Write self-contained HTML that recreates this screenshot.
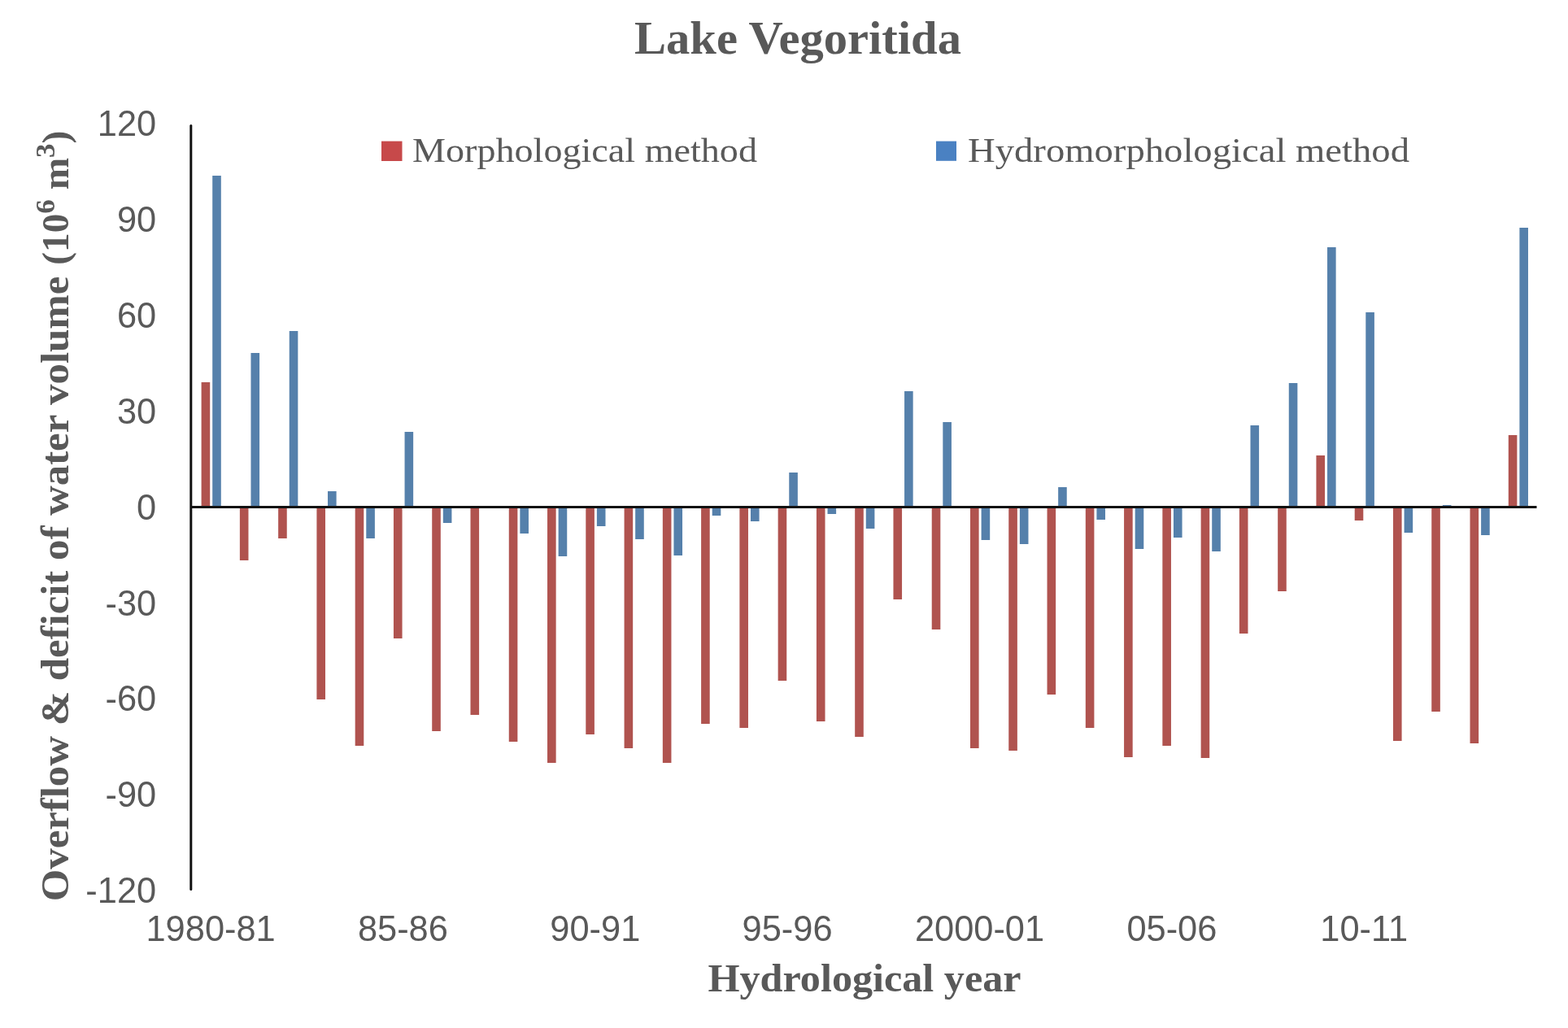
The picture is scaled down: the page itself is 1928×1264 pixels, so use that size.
<!DOCTYPE html>
<html><head><meta charset="utf-8"><title>Lake Vegoritida</title>
<style>
html,body{margin:0;padding:0;background:#fff;}
body{width:1928px;height:1264px;overflow:hidden;}
svg{display:block;}
.tk{font-family:"Liberation Sans",sans-serif;font-size:43.4px;fill:#595959;}
.sf{font-family:"Liberation Serif",serif;fill:#595959;}
</style></head><body>
<svg width="1928" height="1264" viewBox="0 0 1928 1264">
<rect width="1928" height="1264" fill="#fff"/>
<text x="981" y="66" text-anchor="middle" class="sf" font-weight="bold" font-size="58" textLength="402" lengthAdjust="spacingAndGlyphs">Lake Vegoritida</text>
<g>
<rect x="247.60" y="470.00" width="10.6" height="153.50" fill="#B0534F"/><rect x="261.20" y="216.00" width="10.6" height="407.50" fill="#5580AB"/><rect x="294.87" y="623.50" width="10.6" height="65.50" fill="#B0534F"/><rect x="308.47" y="434.00" width="10.6" height="189.50" fill="#5580AB"/><rect x="342.14" y="623.50" width="10.6" height="38.50" fill="#B0534F"/><rect x="355.74" y="407.00" width="10.6" height="216.50" fill="#5580AB"/><rect x="389.41" y="623.50" width="10.6" height="236.50" fill="#B0534F"/><rect x="403.01" y="604.00" width="10.6" height="19.50" fill="#5580AB"/><rect x="436.68" y="623.50" width="10.6" height="293.50" fill="#B0534F"/><rect x="450.28" y="623.50" width="10.6" height="38.50" fill="#5580AB"/><rect x="483.95" y="623.50" width="10.6" height="161.50" fill="#B0534F"/><rect x="497.55" y="531.00" width="10.6" height="92.50" fill="#5580AB"/><rect x="531.22" y="623.50" width="10.6" height="275.50" fill="#B0534F"/><rect x="544.82" y="623.50" width="10.6" height="19.50" fill="#5580AB"/><rect x="578.49" y="623.50" width="10.6" height="255.50" fill="#B0534F"/><rect x="625.76" y="623.50" width="10.6" height="288.50" fill="#B0534F"/><rect x="639.36" y="623.50" width="10.6" height="32.50" fill="#5580AB"/><rect x="673.03" y="623.50" width="10.6" height="314.50" fill="#B0534F"/><rect x="686.63" y="623.50" width="10.6" height="60.50" fill="#5580AB"/><rect x="720.30" y="623.50" width="10.6" height="279.50" fill="#B0534F"/><rect x="733.90" y="623.50" width="10.6" height="23.50" fill="#5580AB"/><rect x="767.57" y="623.50" width="10.6" height="296.50" fill="#B0534F"/><rect x="781.17" y="623.50" width="10.6" height="39.50" fill="#5580AB"/><rect x="814.84" y="623.50" width="10.6" height="314.50" fill="#B0534F"/><rect x="828.44" y="623.50" width="10.6" height="59.50" fill="#5580AB"/><rect x="862.11" y="623.50" width="10.6" height="266.50" fill="#B0534F"/><rect x="875.71" y="623.50" width="10.6" height="10.50" fill="#5580AB"/><rect x="909.38" y="623.50" width="10.6" height="271.50" fill="#B0534F"/><rect x="922.98" y="623.50" width="10.6" height="17.50" fill="#5580AB"/><rect x="956.65" y="623.50" width="10.6" height="213.50" fill="#B0534F"/><rect x="970.25" y="581.00" width="10.6" height="42.50" fill="#5580AB"/><rect x="1003.92" y="623.50" width="10.6" height="263.50" fill="#B0534F"/><rect x="1017.52" y="623.50" width="10.6" height="8.50" fill="#5580AB"/><rect x="1051.19" y="623.50" width="10.6" height="282.50" fill="#B0534F"/><rect x="1064.79" y="623.50" width="10.6" height="26.50" fill="#5580AB"/><rect x="1098.46" y="623.50" width="10.6" height="113.50" fill="#B0534F"/><rect x="1112.06" y="481.00" width="10.6" height="142.50" fill="#5580AB"/><rect x="1145.73" y="623.50" width="10.6" height="150.50" fill="#B0534F"/><rect x="1159.33" y="519.00" width="10.6" height="104.50" fill="#5580AB"/><rect x="1193.00" y="623.50" width="10.6" height="296.50" fill="#B0534F"/><rect x="1206.60" y="623.50" width="10.6" height="40.50" fill="#5580AB"/><rect x="1240.27" y="623.50" width="10.6" height="299.50" fill="#B0534F"/><rect x="1253.87" y="623.50" width="10.6" height="45.50" fill="#5580AB"/><rect x="1287.54" y="623.50" width="10.6" height="230.50" fill="#B0534F"/><rect x="1301.14" y="599.00" width="10.6" height="24.50" fill="#5580AB"/><rect x="1334.81" y="623.50" width="10.6" height="271.50" fill="#B0534F"/><rect x="1348.41" y="623.50" width="10.6" height="15.50" fill="#5580AB"/><rect x="1382.08" y="623.50" width="10.6" height="307.50" fill="#B0534F"/><rect x="1395.68" y="623.50" width="10.6" height="51.50" fill="#5580AB"/><rect x="1429.35" y="623.50" width="10.6" height="293.50" fill="#B0534F"/><rect x="1442.95" y="623.50" width="10.6" height="37.50" fill="#5580AB"/><rect x="1476.62" y="623.50" width="10.6" height="308.50" fill="#B0534F"/><rect x="1490.22" y="623.50" width="10.6" height="54.50" fill="#5580AB"/><rect x="1523.89" y="623.50" width="10.6" height="155.50" fill="#B0534F"/><rect x="1537.49" y="523.00" width="10.6" height="100.50" fill="#5580AB"/><rect x="1571.16" y="623.50" width="10.6" height="103.50" fill="#B0534F"/><rect x="1584.76" y="471.00" width="10.6" height="152.50" fill="#5580AB"/><rect x="1618.43" y="560.00" width="10.6" height="63.50" fill="#B0534F"/><rect x="1632.03" y="304.00" width="10.6" height="319.50" fill="#5580AB"/><rect x="1665.70" y="623.50" width="10.6" height="16.50" fill="#B0534F"/><rect x="1679.30" y="384.00" width="10.6" height="239.50" fill="#5580AB"/><rect x="1712.97" y="623.50" width="10.6" height="287.50" fill="#B0534F"/><rect x="1726.57" y="623.50" width="10.6" height="31.50" fill="#5580AB"/><rect x="1760.24" y="623.50" width="10.6" height="251.50" fill="#B0534F"/><rect x="1773.84" y="621.00" width="10.6" height="2.50" fill="#5580AB"/><rect x="1807.51" y="623.50" width="10.6" height="290.50" fill="#B0534F"/><rect x="1821.11" y="623.50" width="10.6" height="34.50" fill="#5580AB"/><rect x="1854.78" y="535.00" width="10.6" height="88.50" fill="#B0534F"/><rect x="1868.38" y="280.00" width="10.6" height="343.50" fill="#5580AB"/>
</g>
<line x1="234.8" y1="154.5" x2="234.8" y2="1093.5" stroke="#111" stroke-width="3" stroke-linecap="round"/>
<line x1="234.8" y1="623.5" x2="1889.5" y2="623.5" stroke="#111" stroke-width="3"/>
<g>
<text transform="translate(192.2,1110.2) scale(1,1.035)" text-anchor="end" class="tk">-120</text><text transform="translate(192.2,992.3) scale(1,1.035)" text-anchor="end" class="tk">-90</text><text transform="translate(192.2,874.4) scale(1,1.035)" text-anchor="end" class="tk">-60</text><text transform="translate(192.2,756.6) scale(1,1.035)" text-anchor="end" class="tk">-30</text><text transform="translate(192.2,638.7) scale(1,1.035)" text-anchor="end" class="tk">0</text><text transform="translate(192.2,520.8) scale(1,1.035)" text-anchor="end" class="tk">30</text><text transform="translate(192.2,403.0) scale(1,1.035)" text-anchor="end" class="tk">60</text><text transform="translate(192.2,285.1) scale(1,1.035)" text-anchor="end" class="tk">90</text><text transform="translate(192.2,167.2) scale(1,1.035)" text-anchor="end" class="tk">120</text>
</g>
<g>
<text transform="translate(259.1,1156.8) scale(1,1.04)" text-anchor="middle" class="tk">1980-81</text><text transform="translate(495.4,1156.8) scale(1,1.04)" text-anchor="middle" class="tk">85-86</text><text transform="translate(731.8,1156.8) scale(1,1.04)" text-anchor="middle" class="tk">90-91</text><text transform="translate(968.1,1156.8) scale(1,1.04)" text-anchor="middle" class="tk">95-96</text><text transform="translate(1204.5,1156.8) scale(1,1.04)" text-anchor="middle" class="tk">2000-01</text><text transform="translate(1440.9,1156.8) scale(1,1.04)" text-anchor="middle" class="tk">05-06</text><text transform="translate(1677.2,1156.8) scale(1,1.04)" text-anchor="middle" class="tk">10-11</text>
</g>
<rect x="469" y="173.6" width="25.5" height="24.4" fill="#C7494A"/>
<text x="507" y="199" class="sf" font-size="42" textLength="424" lengthAdjust="spacingAndGlyphs">Morphological method</text>
<rect x="1151" y="173.6" width="25" height="24.2" fill="#4A81C2"/>
<text x="1190" y="199" class="sf" font-size="42" textLength="543" lengthAdjust="spacingAndGlyphs">Hydromorphological method</text>
<text x="1063" y="1218.5" text-anchor="middle" class="sf" font-weight="bold" font-size="48" textLength="385" lengthAdjust="spacingAndGlyphs">Hydrological year</text>
<text transform="translate(84,1108.3) rotate(-90)" x="0" y="0" class="sf" font-weight="bold" font-size="48" textLength="768.5" lengthAdjust="spacingAndGlyphs">Overflow &amp; deficit of water volume</text>
<text transform="translate(84,325.7) rotate(-90)" x="0" y="0" class="sf" font-weight="bold" font-size="46" textLength="165" lengthAdjust="spacingAndGlyphs">(10<tspan dy="-17" font-size="34">6</tspan><tspan dy="17"> m</tspan><tspan dy="-17" font-size="34">3</tspan><tspan dy="17">)</tspan></text>
</svg>
</body></html>
